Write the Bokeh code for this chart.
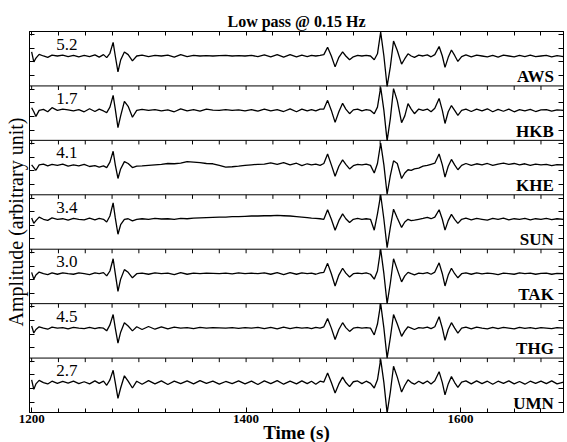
import numpy as np
from bokeh.plotting import figure
from bokeh.models import Range1d, FixedTicker, Span, Title, LinearAxis, ColumnDataSource
from bokeh.embed import file_html
from bokeh.resources import INLINE

# ---------------- data ----------------
stations = ["AWS", "HKB", "KHE", "SUN", "TAK", "THG", "UMN"]
scale_labels = ["5.2", "1.7", "4.1", "3.4", "3.0", "4.5", "2.7"]

time_s = [1200, 1202, 1204, 1207, 1211, 1215, 1219, 1224, 1229, 1234, 1239, 1244, 1249, 1254, 1259, 1263, 1267, 1270, 1273,
          1276, 1278, 1280.5, 1283, 1286.5, 1290, 1294, 1298,
          1303, 1309, 1315, 1321, 1327, 1333, 1339, 1345, 1351, 1357, 1363, 1369, 1375, 1381, 1387, 1393, 1399, 1405, 1411,
          1417, 1423, 1429, 1435, 1441, 1447, 1452, 1457, 1461, 1465, 1469,
          1472.5, 1476, 1479.5, 1483, 1486.5, 1490, 1493, 1496.5, 1500, 1504, 1508, 1512, 1516, 1519.5, 1522.5,
          1525.5, 1528.5, 1531.5, 1534.5, 1537.5, 1541, 1545, 1548, 1551, 1554, 1557, 1561, 1565, 1569, 1572.5, 1576,
          1580, 1583, 1585.5, 1588.5, 1591.5, 1594.5, 1597.5, 1601, 1605,
          1610, 1615, 1620, 1625, 1630, 1635, 1640, 1645, 1650, 1655, 1660, 1665, 1670, 1675, 1680, 1685, 1690, 1696]

aws = [0.15, -0.22, -0.08, 0.06, 0.0, -0.05, 0.03, 0.0, 0.03, -0.02, 0.02, -0.03, 0.02, -0.02, 0.04, -0.04, 0.05, -0.06, 0.1,
       0.5, 0.0, -0.58, -0.15, 0.15, 0.05, -0.18, 0.0,
       0.03, -0.02, 0.02, 0.0, 0.03, -0.04, 0.05, -0.02, 0.02, 0.0, 0.01, 0.0, 0.01, 0.02, 0.0,
       0.01, 0.0, 0.02, -0.02, 0.04, -0.03, 0.05, -0.04, 0.05, -0.03, 0.03, -0.02, 0.02, 0.0, 0.02,
       0.05, 0.32, 0.0, -0.4, -0.05, 0.15, 0.0, -0.14, -0.03, 0.02, 0.0, 0.02, 0.0, -0.14, 0.08,
       0.88, 0.0, -1.12, -0.4, 0.55, 0.2, -0.3, -0.1, 0.08, 0.0, -0.05, 0.03, 0.0, 0.04, -0.03, 0.05,
       0.35, 0.0, -0.42, -0.05, 0.22, 0.02, -0.2, -0.02, 0.04,
       -0.03, 0.03, 0.0, -0.03, 0.02, -0.04, 0.03, 0.0, -0.03, 0.02, -0.02, 0.03, -0.02, 0.0, 0.02, -0.03, 0.01, -0.02]

hkb = [0.1, -0.05, -0.22, 0.0, 0.04, -0.05, 0.1, 0.0, 0.05, 0.02, -0.02, 0.03, -0.05, 0.06, -0.04, 0.05, -0.02, -0.08, 0.12,
       0.55, 0.05, -0.63, -0.2, 0.33, 0.15, -0.25, 0.0,
       0.04, 0.0, 0.03, -0.02, 0.02, -0.05, 0.06, -0.02, 0.03, -0.03, 0.05, 0.01, 0.0, 0.03, 0.0,
       0.02, -0.02, 0.03, -0.03, 0.05, -0.02, 0.03, -0.04, 0.06, -0.05, 0.05, -0.02, 0.03, -0.02, 0.05,
       0.05, 0.37, 0.0, -0.44, -0.05, 0.26, 0.05, -0.12, 0.02, 0.05, -0.02, 0.03, 0.0, -0.12, 0.12,
       0.85, 0.0, -1.12, -0.3, 0.8, 0.35, -0.45, -0.2, 0.25, 0.05, -0.12, 0.05, 0.0, 0.05, -0.05, 0.08,
       0.44, 0.0, -0.48, -0.05, 0.18, 0.0, -0.18, 0.0, 0.05,
       -0.04, 0.05, -0.02, 0.06, -0.05, 0.04, -0.03, 0.05, -0.05, 0.03, -0.02, 0.04, -0.04, 0.02, 0.03, -0.03, 0.02, 0.0]

khe = [0.0, -0.1, -0.2, 0.0, 0.03, -0.04, 0.02, -0.02, 0.03, -0.05, 0.0, -0.04, 0.02, -0.06, -0.03, -0.08, -0.04, -0.1, 0.1,
       0.5, 0.0, -0.5, -0.15, 0.12, 0.05, -0.1, -0.05,
       -0.04, -0.02, 0.0, 0.02, 0.05, 0.04, 0.06, 0.12, 0.1, 0.08, 0.05, 0.04, -0.02, -0.08, -0.07,
       -0.05, -0.02, 0.0, 0.02, 0.03, 0.07, 0.02, 0.08, 0.0, 0.06, -0.03, 0.04, 0.0, 0.03, -0.02,
       0.05, 0.4, 0.0, -0.42, -0.05, 0.18, 0.02, -0.15, -0.03, 0.02, 0.0, 0.03, -0.02, -0.3, 0.05,
       0.8, 0.0, -1.08, -0.4, 0.15, 0.05, -0.5, -0.3, -0.18, -0.2, -0.15, -0.12, -0.05, -0.02, 0.02, 0.06,
       0.4, 0.0, -0.45, -0.05, 0.2, 0.0, -0.18, -0.02, 0.05,
       -0.02, 0.04, 0.0, 0.05, -0.02, 0.03, 0.06, 0.02, 0.05, 0.0, 0.04, -0.02, 0.03, 0.0, 0.02, -0.03, 0.01, 0.0]

sun = [0.05, -0.15, -0.05, 0.08, 0.0, -0.04, 0.05, 0.0, 0.02, -0.03, 0.03, 0.0, -0.02, 0.04, -0.02, 0.03, 0.0, -0.1, 0.12,
       0.6, 0.05, -0.55, -0.2, 0.0, 0.02, -0.06, 0.0,
       0.02, 0.0, 0.03, 0.01, 0.02, 0.0, 0.03, 0.02, 0.04, 0.05, 0.06, 0.07, 0.08, 0.08, 0.1,
       0.1, 0.11, 0.12, 0.12, 0.13, 0.13, 0.14, 0.13, 0.12, 0.1, 0.08, 0.06, 0.04, 0.03, 0.02,
       0.0, 0.35, 0.0, -0.4, -0.05, 0.2, 0.02, -0.12, 0.0, 0.03, 0.0, 0.02, 0.0, -0.4, 0.2,
       0.9, 0.0, -1.04, -0.3, 0.37, 0.05, -0.3, -0.1, 0.0, -0.05, -0.03, 0.0, 0.03, 0.07, 0.02, 0.08,
       0.35, 0.0, -0.4, -0.05, 0.18, 0.0, -0.15, 0.0, 0.04,
       -0.02, 0.03, 0.0, -0.03, 0.03, 0.0, 0.04, -0.02, 0.02, 0.0, 0.03, -0.02, 0.02, 0.0, 0.03, -0.01, 0.02, 0.0]

tak = [0.05, -0.2, -0.05, 0.06, 0.0, -0.03, 0.03, -0.02, 0.03, 0.0, -0.02, 0.03, 0.0, -0.03, 0.03, 0.0, 0.04, -0.08, 0.1,
       0.55, 0.0, -0.65, -0.2, 0.15, 0.05, -0.15, 0.0,
       0.02, -0.02, 0.03, 0.0, 0.02, -0.03, 0.04, -0.02, 0.02, 0.0, 0.02, 0.01, 0.0, 0.02, -0.01,
       0.03, 0.0, 0.02, 0.0, 0.03, -0.02, 0.04, -0.03, 0.04, -0.02, 0.03, 0.0, 0.02, -0.02, 0.03,
       0.05, 0.38, 0.0, -0.45, -0.05, 0.2, 0.02, -0.12, 0.0, 0.02, 0.0, 0.03, -0.02, -0.2, 0.1,
       0.9, 0.0, -1.1, -0.35, 0.55, 0.15, -0.3, -0.08, 0.05, 0.0, -0.04, 0.02, 0.0, 0.04, -0.02, 0.06,
       0.4, 0.0, -0.45, -0.05, 0.2, 0.0, -0.15, 0.0, 0.03,
       -0.02, 0.03, -0.01, 0.02, 0.0, -0.03, 0.02, 0.0, -0.02, 0.03, 0.0, 0.02, -0.02, 0.01, 0.02, -0.02, 0.01, 0.0]

thg = [0.08, -0.18, -0.05, 0.05, 0.0, -0.04, 0.04, 0.0, 0.02, -0.03, 0.03, 0.0, -0.02, 0.03, -0.02, 0.02, 0.0, -0.1, 0.12,
       0.5, 0.0, -0.55, -0.15, 0.2, 0.08, -0.1, 0.05,
       -0.05, 0.06, -0.04, 0.05, -0.03, 0.04, 0.0, 0.02, -0.02, 0.03, 0.0, 0.02, 0.01, 0.0, 0.02,
       -0.01, 0.02, 0.0, 0.03, -0.02, 0.03, -0.03, 0.04, -0.02, 0.03, 0.0, 0.02, -0.02, 0.03, 0.0,
       0.05, 0.35, 0.0, -0.42, -0.05, 0.2, 0.02, -0.12, 0.0, 0.03, 0.0, 0.02, 0.0, -0.25, 0.15,
       0.9, 0.0, -1.1, -0.35, 0.5, 0.15, -0.3, -0.1, 0.05, 0.0, -0.05, 0.02, 0.0, 0.04, -0.02, 0.05,
       0.42, 0.0, -0.45, -0.05, 0.2, 0.0, -0.18, 0.0, 0.04,
       -0.03, 0.04, 0.0, -0.03, 0.03, -0.02, 0.03, 0.0, -0.03, 0.03, -0.01, 0.02, -0.02, 0.02, 0.0, -0.02, 0.02, 0.0]

umn = [0.1, -0.25, -0.05, 0.08, 0.0, -0.05, 0.05, -0.03, 0.04, -0.02, 0.05, -0.04, 0.03, -0.05, 0.06, -0.03, 0.05, -0.1, 0.1,
       0.45, 0.0, -0.58, -0.2, 0.25, 0.05, -0.2, 0.05,
       -0.06, 0.07, -0.05, 0.06, -0.07, 0.05, -0.04, 0.06, -0.05, 0.07, -0.03, 0.05, -0.06, 0.04, -0.04,
       0.06, -0.05, 0.05, -0.07, 0.06, -0.04, 0.07, -0.06, 0.05, -0.05, 0.06, -0.04, 0.05, -0.06, 0.05,
       0.02, 0.35, 0.0, -0.38, -0.05, 0.2, 0.0, -0.15, 0.03, 0.06, -0.04, 0.05, -0.03, -0.2, 0.1,
       0.85, 0.0, -1.12, -0.35, 0.6, 0.2, -0.35, -0.1, 0.1, 0.0, -0.06, 0.05, -0.04, 0.06, -0.05, 0.07,
       0.4, 0.0, -0.45, -0.05, 0.22, 0.0, -0.18, 0.02, 0.06,
       -0.05, 0.06, -0.04, 0.05, -0.06, 0.05, -0.03, 0.06, -0.05, 0.04, -0.06, 0.05, -0.03, 0.05, -0.04, 0.06, -0.05, 0.02]

series = [aws, hkb, khe, sun, tak, thg, umn]

x_tick_labels = [1200, 1400, 1600]
# --------------------------------------

for s in series:
    assert len(s) == len(time_s), (len(s), len(time_s))

SERIF = "Liberation Serif"
n = len(stations)
PANEL = 2.0      # height of one panel (data units)
BASE = 1.1       # baseline position inside a panel
T0, T1 = 1198, 1696

p = figure(width=567, height=442, x_range=Range1d(T0, T1), y_range=Range1d(0, n * PANEL),
           output_backend="svg", toolbar_location=None,
           min_border_left=29, min_border_right=4, min_border_top=31, min_border_bottom=30)
p.grid.visible = False
p.outline_line_color = "black"
p.outline_line_width = 1
p.background_fill_color = "white"
p.border_fill_color = "white"

# title
p.title.text = "Low pass @ 0.15 Hz"
p.title.align = "center"
p.title.offset = 10
p.title.text_font = SERIF
p.title.text_font_style = "bold"
p.title.text_font_size = "16px"
p.title.text_color = "black"
p.title.standoff = 4

# ---- x axes ----
ticks25 = list(range(1200, 1701, 25))
minor_x = [t for t in ticks25 if t not in x_tick_labels]

xb = p.xaxis[0]
xb.ticker = FixedTicker(ticks=x_tick_labels, minor_ticks=minor_x)
xb.major_tick_in = 5
xb.major_tick_out = 0
xb.minor_tick_in = 4
xb.minor_tick_out = 0
xb.axis_line_color = "black"
xb.major_tick_line_color = "black"
xb.minor_tick_line_color = "black"
xb.major_label_text_font = SERIF
xb.major_label_text_font_style = "bold"
xb.major_label_text_font_size = "13px"
xb.major_label_text_color = "black"
xb.major_label_standoff = 2

xa = LinearAxis(ticker=FixedTicker(ticks=[], minor_ticks=ticks25))
xa.minor_tick_in = 4
xa.minor_tick_out = 0
xa.minor_tick_line_color = "black"
xa.major_label_standoff = 0
p.add_layout(xa, "above")

p.add_layout(Title(text="Time (s)", align="center", offset=13, text_font=SERIF, text_color="black",
                   text_font_style="bold", text_font_size="19px", standoff=-12), "below")

# ---- y axes ----
bounds = [k * PANEL for k in range(1, n)]
inner = [k * PANEL + o for k in range(n) for o in (0.38, 0.88, 1.38, 1.88)]

for loc in ("left", "right"):
    if loc == "left":
        ax = p.yaxis[0]
        ax.axis_label = "Amplitude (arbitrary unit)"
        ax.axis_label_text_font = SERIF
        ax.axis_label_text_font_style = "normal"
        ax.axis_label_text_font_size = "20px"
        ax.axis_label_text_color = "black"
        ax.axis_label_standoff = 3
    else:
        ax = LinearAxis()
        p.add_layout(ax, "right")
    ax.ticker = FixedTicker(ticks=[], minor_ticks=inner)
    ax.minor_tick_in = 5
    ax.minor_tick_out = 0
    ax.minor_tick_line_color = "black"
    ax.major_label_standoff = 0

# ---- panel separators with their ticks ----
for b in bounds:
    p.add_layout(Span(location=b, dimension="width", line_color="black", line_width=1))
sep_x = [t for t in ticks25 for b in bounds]
sep_y0 = [b for t in ticks25 for b in bounds]
sep_y1 = [b - 0.15 for t in ticks25 for b in bounds]
p.segment(x0=sep_x, y0=sep_y0, x1=sep_x, y1=sep_y1, line_color="black", line_width=1)

# ---- traces ----
t = np.array(time_s, dtype=float)
for k, s in enumerate(series):
    bottom = (n - 1 - k) * PANEL
    p.line(t, bottom + BASE + np.array(s), line_color="black", line_width=1.3)

# ---- labels ----
bottoms = [(n - 1 - k) * PANEL for k in range(n)]
src_names = ColumnDataSource(dict(x=[1687] * n, y=[b + 0.34 for b in bottoms], text=stations))
p.text(x="x", y="y", text="text", source=src_names, text_align="right", text_baseline="alphabetic",
       text_font={"value": SERIF}, text_font_style="bold", text_font_size="17px", text_color="black")
src_amp = ColumnDataSource(dict(x=[1223] * n, y=[b + 1.54 for b in bottoms], text=scale_labels))
p.text(x="x", y="y", text="text", source=src_amp, text_align="left", text_baseline="alphabetic",
       text_font={"value": SERIF}, text_font_size="17px", text_color="black")

open("out.html", "w").write(file_html(p, INLINE))
